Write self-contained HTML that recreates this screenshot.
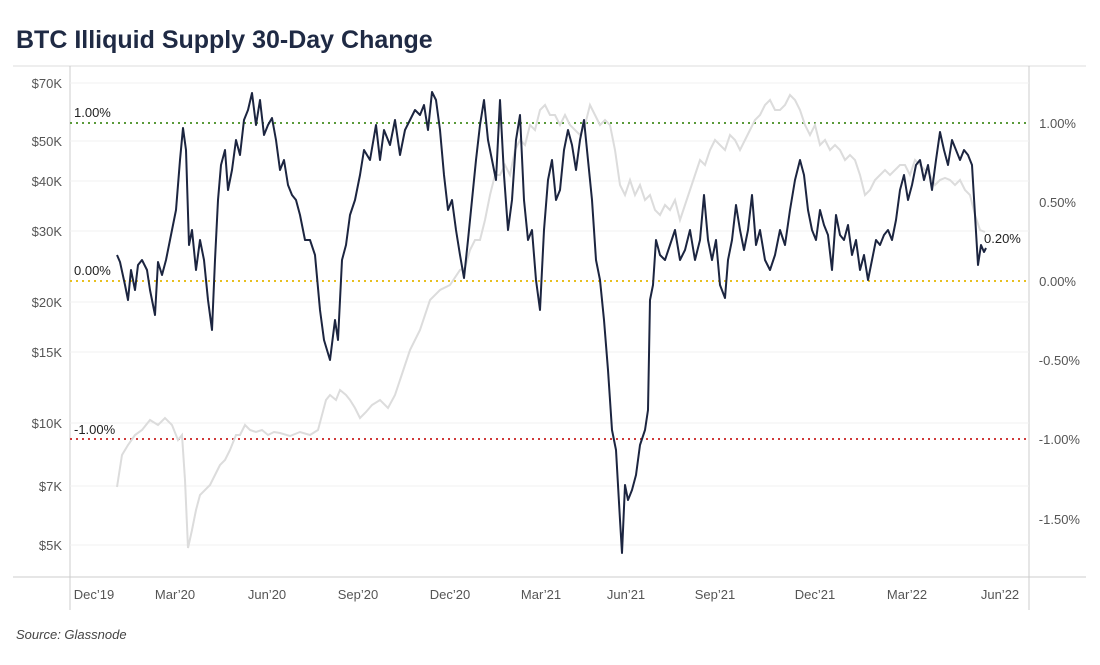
<!DOCTYPE html>
<html><head><style>
body{margin:0;background:#fff;width:1100px;height:660px;overflow:hidden;font-family:"Liberation Sans",sans-serif}
</style></head><body>
<svg width="1100" height="660" xmlns="http://www.w3.org/2000/svg" font-family="Liberation Sans, sans-serif">
<text x="16" y="48" font-size="25" font-weight="bold" fill="#1f2a44">BTC Illiquid Supply 30-Day Change</text>
<line x1="13" y1="66" x2="1086" y2="66" stroke="#ddd"/>
<line x1="13" y1="577" x2="1086" y2="577" stroke="#ccc"/>
<line x1="70" y1="66" x2="70" y2="610" stroke="#ccc"/>
<line x1="1029" y1="66" x2="1029" y2="610" stroke="#ccc"/>
<g stroke="#f0f0f0">
<line x1="70" x2="1029" y1="83" y2="83"/><line x1="70" x2="1029" y1="141" y2="141"/><line x1="70" x2="1029" y1="181" y2="181"/><line x1="70" x2="1029" y1="231" y2="231"/><line x1="70" x2="1029" y1="302" y2="302"/><line x1="70" x2="1029" y1="352" y2="352"/><line x1="70" x2="1029" y1="423" y2="423"/><line x1="70" x2="1029" y1="486" y2="486"/><line x1="70" x2="1029" y1="545" y2="545"/>
</g>
<g font-size="13" fill="#555" text-anchor="end">
<text x="62" y="88">$70K</text><text x="62" y="146">$50K</text><text x="62" y="186">$40K</text><text x="62" y="236">$30K</text><text x="62" y="307">$20K</text><text x="62" y="357">$15K</text><text x="62" y="428">$10K</text><text x="62" y="491">$7K</text><text x="62" y="550">$5K</text>
</g>
<g font-size="13" fill="#555" text-anchor="end">
<text x="1076" y="128">1.00%</text><text x="1076" y="207">0.50%</text><text x="1076" y="286">0.00%</text><text x="1080" y="365">-0.50%</text><text x="1080" y="444">-1.00%</text><text x="1080" y="524">-1.50%</text>
</g>
<g font-size="13" fill="#555" text-anchor="middle">
<text x="94" y="599">Dec’19</text><text x="175" y="599">Mar’20</text><text x="267" y="599">Jun’20</text><text x="358" y="599">Sep’20</text><text x="450" y="599">Dec’20</text><text x="541" y="599">Mar’21</text><text x="626" y="599">Jun’21</text><text x="715" y="599">Sep’21</text><text x="815" y="599">Dec’21</text><text x="907" y="599">Mar’22</text><text x="1000" y="599">Jun’22</text>
</g>
<text x="16" y="639" font-size="13" font-style="italic" fill="#444">Source: Glassnode</text>
<line x1="70" x2="1029" y1="123" y2="123" stroke="#5a9a3a" stroke-width="2" stroke-dasharray="2,4"/>
<line x1="70" x2="1029" y1="281" y2="281" stroke="#e8c020" stroke-width="2" stroke-dasharray="2,4"/>
<line x1="70" x2="1029" y1="439" y2="439" stroke="#d03a3a" stroke-width="2" stroke-dasharray="2,4"/>
<g font-size="13" fill="#222"><text x="74" y="117">1.00%</text><text x="74" y="275">0.00%</text><text x="74" y="434">-1.00%</text><text x="984" y="243">0.20%</text></g>
<polyline fill="none" stroke="#dcdcdc" stroke-width="2" points="117,487 122,455 128,445 135,435 142,430 150,420 158,425 165,418 172,425 178,440 182,435 185,480 188,548 192,530 196,510 200,495 205,490 210,485 215,475 220,465 225,460 230,450 236,435 240,435 245,425 250,430 256,432 262,430 268,435 274,432 280,433 290,436 300,432 310,435 318,430 322,415 326,400 330,395 336,400 340,390 346,395 350,400 355,408 360,418 366,412 372,405 380,400 388,408 395,395 400,380 405,365 410,350 420,330 430,300 440,290 450,285 460,270 465,268 470,250 475,240 480,240 485,220 490,195 495,175 500,175 505,165 510,175 515,150 520,140 525,145 530,125 535,130 540,110 545,105 550,115 555,115 560,125 565,115 570,125 575,130 580,135 585,125 590,105 595,115 600,125 605,120 610,125 615,150 620,185 625,195 630,180 635,195 640,185 645,200 650,195 655,210 660,215 665,205 670,210 675,200 680,220 685,205 690,190 695,175 700,160 705,165 710,150 715,140 720,145 725,150 730,135 735,140 740,150 745,140 750,130 755,120 760,115 765,105 770,100 775,110 780,110 785,105 790,95 795,100 800,110 805,125 810,135 815,125 820,145 825,140 830,150 835,145 840,150 845,160 850,155 855,160 860,175 865,195 870,190 875,180 880,175 885,170 890,175 895,170 900,165 905,165 910,175 915,160 920,165 925,170 930,175 935,185 940,180 945,178 950,180 955,185 960,180 965,190 970,195 975,215 980,230 985,232"/>
<polyline fill="none" stroke="#1c2540" stroke-width="2" stroke-linejoin="round" points="117,255 120,262 125,285 128,300 131,270 135,290 138,265 142,260 147,270 150,290 155,315 158,262 162,275 166,260 170,240 176,210 180,160 183,128 186,150 189,245 192,230 196,270 200,240 204,260 208,300 212,330 215,260 218,200 221,165 225,150 228,190 232,170 236,140 240,155 244,120 248,110 252,93 256,125 260,100 264,135 268,125 272,118 276,140 280,170 284,160 288,185 292,195 296,200 300,215 305,240 310,240 315,255 320,310 324,340 330,360 335,320 338,340 342,260 346,245 350,215 355,200 360,175 364,150 370,160 376,125 380,160 384,130 390,145 395,120 400,155 405,130 410,120 415,110 420,115 424,105 428,130 432,92 436,100 440,130 444,175 448,210 452,200 456,230 460,255 464,278 468,240 472,200 476,160 480,125 484,100 488,140 492,160 496,180 500,100 504,175 508,230 512,200 516,140 520,115 524,200 528,240 532,230 536,280 540,310 544,230 548,180 552,160 556,200 560,190 564,150 568,130 572,145 576,170 580,140 584,120 588,160 592,200 596,260 600,280 604,320 608,370 612,430 616,450 620,520 622,553 625,485 628,500 632,490 636,475 640,445 645,430 648,410 650,300 653,285 656,240 660,255 665,260 670,245 675,230 680,260 685,250 690,230 695,260 700,240 704,195 708,240 712,260 716,240 720,285 725,298 728,260 732,240 736,205 740,230 744,250 748,230 752,195 756,245 760,230 765,260 770,270 775,255 780,230 785,245 790,210 795,180 800,160 804,175 808,210 812,230 816,240 820,210 824,225 828,235 832,270 836,215 840,235 844,240 848,225 852,255 856,240 860,270 864,255 868,280 872,260 876,240 880,245 884,235 888,230 892,240 896,220 900,190 904,175 908,200 912,185 916,165 920,160 924,180 928,165 932,190 936,160 940,132 944,150 948,165 952,140 956,150 960,160 964,150 968,155 972,165 975,215 978,265 981,245 984,252 986,248"/>
</svg>
</body></html>
